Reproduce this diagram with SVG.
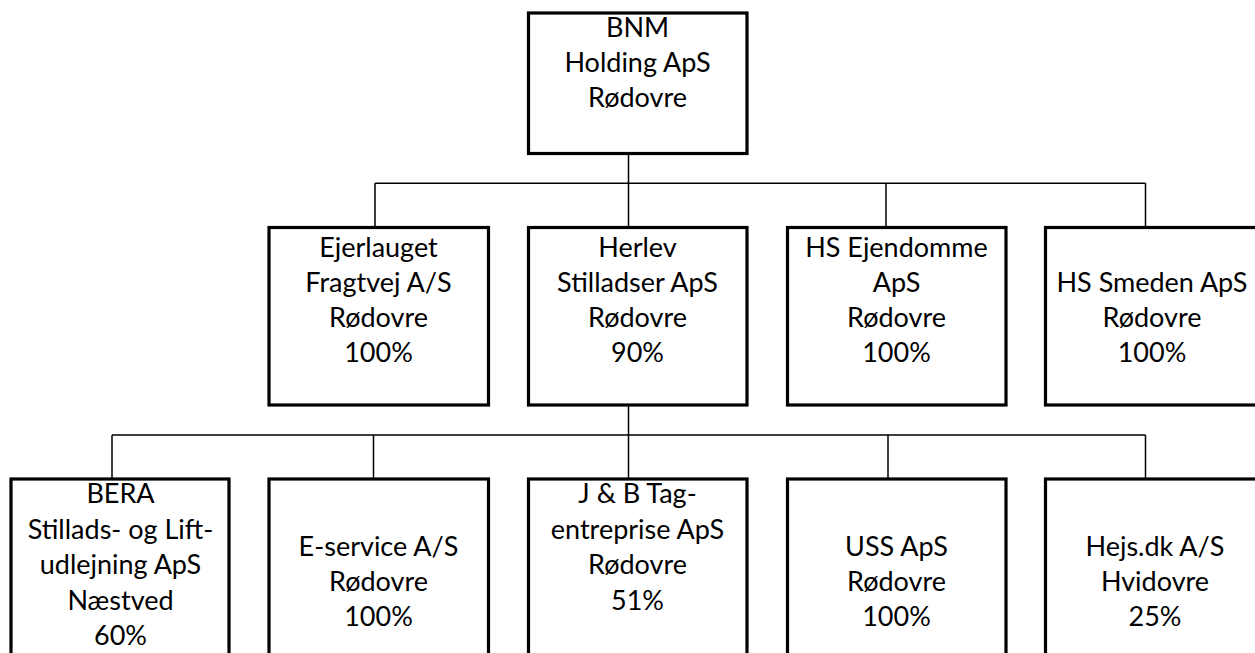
<svg xmlns="http://www.w3.org/2000/svg" width="1255" height="653" viewBox="0 0 1255 653">
<style>
.box{fill:#fff;stroke:#000;stroke-width:3.2}
.con{fill:none;stroke:#000;stroke-width:1.5}
text{font-family:Lato,"Noto Sans","Liberation Sans",sans-serif;font-size:27px;fill:#000;text-anchor:middle}
</style>
<rect width="1255" height="653" fill="#fff"/>
<g id="connectors">
<path class="con" d="M628.5 155V227M375 183.3H1145.5M375 183.3V226M886 183.3V226M1145.5 183.3V226"/>
<path class="con" d="M628.5 406V478M112 435H1145.5M112 435V478M373.5 435V478M888 435V478M1145.5 435V478"/>
</g>
<g id="bnm">
<rect class="box" x="528.5" y="13" width="218.5" height="140.5"/>
<text x="637.5" y="37">BNM</text>
<text x="637.5" y="72">Holding ApS</text>
<text x="637.5" y="107">Rødovre</text>
</g>
<g id="ejerlauget">
<rect class="box" x="269" y="227.5" width="219.5" height="177.5"/>
<text x="378.5" y="257">Ejerlauget</text>
<text x="378.5" y="292">Fragtvej A/S</text>
<text x="378.5" y="327">Rødovre</text>
<text x="378.5" y="362">100%</text>
</g>
<g id="herlev">
<rect class="box" x="528.5" y="227.5" width="218.5" height="177.5"/>
<text x="637.5" y="257">Herlev</text>
<text x="637.5" y="292">Stilladser ApS</text>
<text x="637.5" y="327">Rødovre</text>
<text x="637.5" y="362">90%</text>
</g>
<g id="hs-ejendomme">
<rect class="box" x="787.5" y="227.5" width="218.5" height="177.5"/>
<text x="896.5" y="257">HS Ejendomme</text>
<text x="896.5" y="292">ApS</text>
<text x="896.5" y="327">Rødovre</text>
<text x="896.5" y="362">100%</text>
</g>
<g id="hs-smeden">
<rect class="box" x="1045.5" y="227.5" width="218.5" height="177.5"/>
<text x="1152" y="292">HS Smeden ApS</text>
<text x="1152" y="327">Rødovre</text>
<text x="1152" y="362">100%</text>
</g>
<g id="bera">
<rect class="box" x="11" y="479" width="218" height="200"/>
<text x="120.5" y="503">BERA</text>
<text x="120.5" y="538.5">Stillads- og Lift-</text>
<text x="120.5" y="574">udlejning ApS</text>
<text x="120.5" y="609.5">Næstved</text>
<text x="120.5" y="645">60%</text>
</g>
<g id="e-service">
<rect class="box" x="269" y="479" width="219.5" height="200"/>
<text x="378.5" y="556">E-service A/S</text>
<text x="378.5" y="591">Rødovre</text>
<text x="378.5" y="626">100%</text>
</g>
<g id="jb">
<rect class="box" x="528.5" y="479" width="218.5" height="200"/>
<text x="637.5" y="503">J &amp; B Tag-</text>
<text x="637.5" y="538.5">entreprise ApS</text>
<text x="637.5" y="574">Rødovre</text>
<text x="637.5" y="609.5">51%</text>
</g>
<g id="uss">
<rect class="box" x="787.5" y="479" width="218.5" height="200"/>
<text x="896.5" y="556">USS ApS</text>
<text x="896.5" y="591">Rødovre</text>
<text x="896.5" y="626">100%</text>
</g>
<g id="hejs">
<rect class="box" x="1045.5" y="479" width="218.5" height="200"/>
<text x="1155" y="556">Hejs.dk A/S</text>
<text x="1155" y="591">Hvidovre</text>
<text x="1155" y="626">25%</text>
</g>
</svg>
